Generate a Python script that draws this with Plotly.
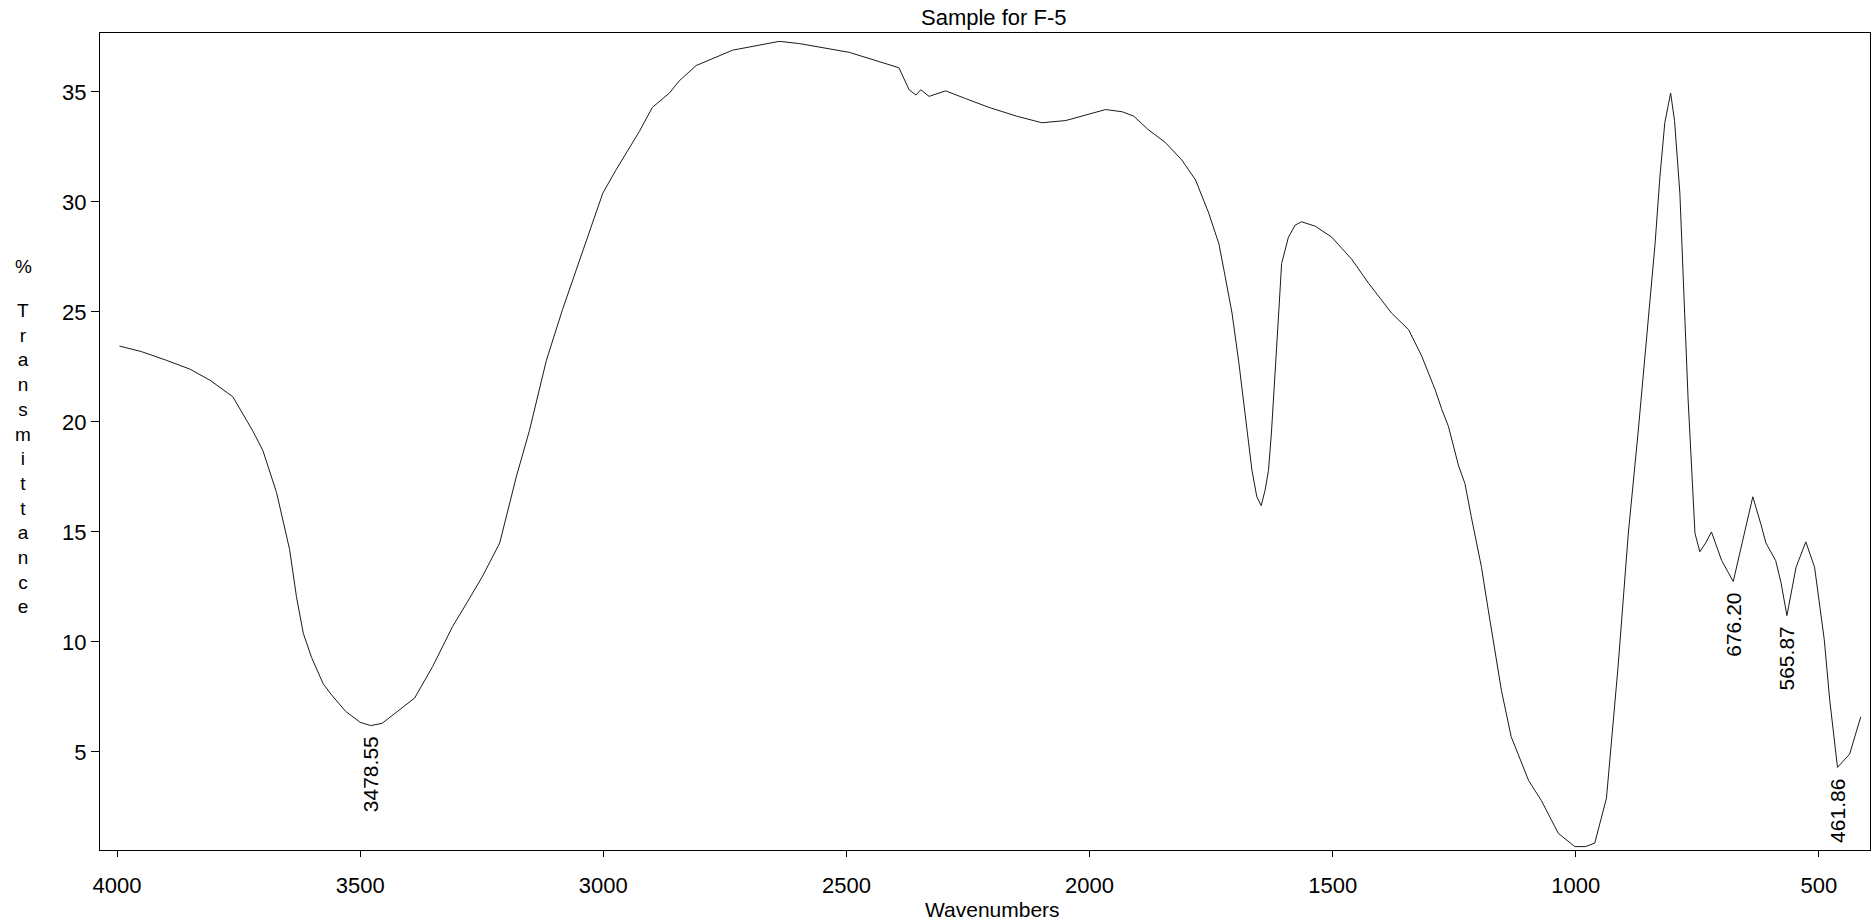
import plotly.graph_objects as go

# Spectrum (wavenumber in cm-1, % transmittance)
wavenumber = [3995, 3950, 3898, 3850, 3809, 3762, 3721, 3700, 3672, 3645, 3631, 3617, 3600,
              3576, 3559, 3530, 3500, 3478.55, 3455, 3420, 3388, 3351, 3310, 3280, 3248, 3213,
              3179, 3152, 3117, 3084, 3056, 3028, 3001, 2974, 2946, 2926, 2899, 2864, 2844,
              2809, 2734, 2638, 2597, 2494, 2392, 2371, 2357, 2347, 2330, 2296, 2255, 2207,
              2150, 2098, 2049, 2000, 1967, 1933, 1909, 1880, 1844, 1810, 1782, 1755, 1734,
              1721, 1707, 1693, 1680, 1666, 1656, 1647, 1639, 1632, 1626, 1618, 1611, 1605,
              1591, 1577, 1564, 1536, 1502, 1461, 1426, 1379, 1344, 1317, 1289, 1276, 1262,
              1241, 1228, 1215, 1194, 1180, 1166, 1160, 1153, 1133, 1097, 1071, 1036, 1002,
              980, 961, 937, 913, 892, 872, 858, 837, 827, 817, 805, 797, 786, 781, 776, 769,
              762, 755, 745, 733, 721, 700, 676.2, 653, 636, 620, 609, 589, 578, 565.87, 547,
              527, 509, 489, 478, 461.86, 450, 437, 414]
transmittance = [23.45, 23.2, 22.8, 22.4, 21.9, 21.15, 19.6, 18.7, 16.8, 14.2, 12.06, 10.4, 9.3,
                 8.1, 7.6, 6.85, 6.35, 6.2, 6.3, 6.9, 7.45, 8.88, 10.7, 11.8, 13.0, 14.5,
                 17.5, 19.6, 22.8, 25.1, 26.9, 28.7, 30.4, 31.45, 32.5, 33.2, 34.3, 34.95, 35.5,
                 36.2, 36.9, 37.3, 37.2, 36.8, 36.1, 35.1, 34.86, 35.1, 34.8, 35.05, 34.7, 34.3,
                 33.9, 33.6, 33.7, 34.0, 34.2, 34.1, 33.9, 33.3, 32.7, 31.9, 31.0, 29.5, 28.1,
                 26.6, 24.95, 22.7, 20.4, 17.8, 16.6, 16.2, 16.9, 17.8, 19.5, 22.7, 24.95, 27.2,
                 28.4, 28.95, 29.1, 28.9, 28.4, 27.4, 26.3, 24.95, 24.2, 23.0, 21.45, 20.6, 19.8,
                 18.0, 17.2, 15.7, 13.4, 11.45, 9.6, 8.9, 7.8, 5.7, 3.7, 2.8, 1.3, 0.7,
                 0.7, 0.86, 2.9, 8.9, 14.95, 19.5, 22.8, 28.1, 31.15, 33.6, 34.95, 33.7, 30.4, 27.4, 24.3, 21.0,
                 18.0, 14.95, 14.1, 14.5, 15.0, 13.7, 12.75, 14.95, 16.6, 15.4, 14.5, 13.7, 12.7, 11.2, 13.4,
                 14.55, 13.4, 10.1, 7.4, 4.3, 4.6, 4.9, 6.6]

peak_wavenumbers = [3478.55, 676.20, 565.87, 461.86]
peak_transmittance = [6.2, 12.75, 11.2, 4.3]
peak_labels = ["3478.55", "676.20", "565.87", "461.86"]

x_tickvals = [4000, 3500, 3000, 2500, 2000, 1500, 1000, 500]
y_tickvals = [5, 10, 15, 20, 25, 30, 35]

FONT = "Arial, Liberation Sans, sans-serif"

fig = go.Figure()
fig.add_trace(go.Scatter(x=wavenumber, y=transmittance, mode="lines",
                         line=dict(color="#1a1a1a", width=1), showlegend=False,
                         hoverinfo="x+y"))

annotations = []
for wn, tr, lab in zip(peak_wavenumbers, peak_transmittance, peak_labels):
    annotations.append(dict(x=wn, y=tr, xref="x", yref="y", text=lab, showarrow=False,
                            textangle=-90, xanchor="center", yanchor="top", yshift=-9,
                            font=dict(family=FONT, size=21, color="black")))

annotations.append(dict(x=0.505, y=1, xref="paper", yref="paper", text="Sample for F-5",
                        showarrow=False, xanchor="center", yanchor="bottom", yshift=1,
                        font=dict(family=FONT, size=22, color="black")))
annotations.append(dict(x=0.504, y=-0.0734, xref="paper", yref="paper", text="Wavenumbers",
                        showarrow=False, xanchor="center", yanchor="middle",
                        font=dict(family=FONT, size=21, color="black")))
annotations.append(dict(x=-0.0435, y=0.7136, xref="paper", yref="paper", text="%",
                        showarrow=False, xanchor="center", yanchor="middle",
                        font=dict(family=FONT, size=19, color="black")))
annotations.append(dict(x=-0.0435, y=0.479, xref="paper", yref="paper",
                        text="<br>".join(list("Transmittance")),
                        showarrow=False, xanchor="center", yanchor="middle",
                        font=dict(family=FONT, size=19, color="black")))

fig.update_layout(
    width=1872, height=924,
    margin=dict(l=100, r=2, t=33, b=74),
    paper_bgcolor="white", plot_bgcolor="white",
    annotations=annotations,
    font=dict(family=FONT, size=22, color="black"),
    xaxis=dict(range=[4035, 395], tickvals=x_tickvals, showgrid=False, zeroline=False,
               showline=True, mirror=True, linecolor="black", linewidth=1,
               ticks="outside", ticklen=6, tickcolor="black", ticklabelstandoff=10,
               tickfont=dict(family=FONT, size=22, color="black")),
    yaxis=dict(range=[0.545, 37.68], tickvals=y_tickvals, showgrid=False, zeroline=False,
               showline=True, mirror=True, linecolor="black", linewidth=1,
               ticks="outside", ticklen=8, tickcolor="black",
               tickfont=dict(family=FONT, size=22, color="black")),
)

fig.write_html("out.html")
